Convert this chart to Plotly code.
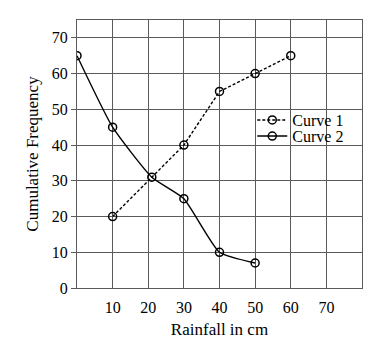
import plotly.graph_objects as go

curve1_x = [10, 30, 40, 50, 60]
curve1_y = [20, 40, 55, 60, 65]
curve2_x = [0, 10, 21, 30, 40, 50]
curve2_y = [65, 45, 31, 25, 10, 7]
x_ticks = [10, 20, 30, 40, 50, 60, 70]
y_ticks = [0, 10, 20, 30, 40, 50, 60, 70]

font = "Liberation Serif, Times New Roman, serif"
grid = "#5a5a5a"

fig = go.Figure()
fig.add_trace(go.Scatter(
    x=curve1_x, y=curve1_y, mode="lines+markers", name="Curve 1",
    line=dict(color="black", width=1.4, dash="3px,2px"),
    marker=dict(symbol="circle-open", size=8, color="black", line=dict(width=1.5)),
    legend="legend", showlegend=True,
))
fig.add_trace(go.Scatter(
    x=curve2_x, y=curve2_y, mode="lines+markers", name="Curve 2",
    line=dict(color="black", width=1.4, shape="spline", smoothing=0.5),
    marker=dict(symbol="circle-open", size=8, color="black", line=dict(width=1.5)),
    legend="legend2", showlegend=True,
))

# white backdrop behind the legend (hides grid lines there)
fig.add_shape(type="rect", xref="paper", yref="paper",
              x0=0.625, x1=0.997, y0=0.537, y1=0.663,
              fillcolor="white", line_width=0, layer="between")

fig.update_layout(
    width=375, height=339,
    margin=dict(l=77, r=13, t=20, b=51),
    paper_bgcolor="white", plot_bgcolor="white",
    font=dict(family=font, size=16, color="black"),
    showlegend=True,
    legend=dict(x=0.615, y=0.69, xanchor="left", yanchor="top", visible=True,
                bgcolor="rgba(255,255,255,0)", borderwidth=0, font=dict(size=16)),
    legend2=dict(x=0.615, y=0.63, xanchor="left", yanchor="top", visible=True,
                 bgcolor="rgba(255,255,255,0)", borderwidth=0, font=dict(size=16)),
)
fig.update_xaxes(
    range=[0, 80], tickvals=x_ticks, showgrid=True, gridcolor=grid, gridwidth=1,
    showline=True, linecolor=grid, linewidth=1, mirror=True, zeroline=False,
    ticks="outside", ticklen=5, tickcolor="rgba(0,0,0,0)", automargin=False,
    title=dict(text="Rainfall in cm", standoff=8, font=dict(size=17)),
)
fig.update_yaxes(
    range=[0, 75], tickvals=y_ticks, showgrid=True, gridcolor=grid, gridwidth=1,
    showline=True, linecolor=grid, linewidth=1, mirror=True, zeroline=False,
    ticks="outside", ticklen=5, tickcolor=grid, automargin=False,
    title=dict(text="Cumulative Frequency", standoff=8, font=dict(size=17)),
)

fig.write_html("out.html")
